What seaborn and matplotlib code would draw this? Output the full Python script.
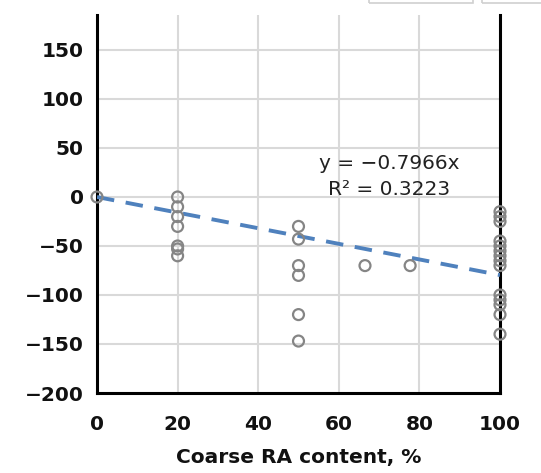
import matplotlib
matplotlib.use("Agg")
import matplotlib.pyplot as plt
import seaborn as sns
import pandas as pd
from matplotlib.patches import Rectangle

# Measured change values by coarse recycled-aggregate content
ra_content = [0,
              20, 20, 20, 20, 20, 20, 20,
              50, 50, 50, 50, 50, 50,
              66.5, 77.7,
              100, 100, 100, 100, 100, 100, 100, 100, 100, 100, 100, 100, 100, 100]
change = [0,
          0, -10, -20, -30, -50, -53, -60,
          -30, -43, -70, -80, -120, -147,
          -70, -70,
          -15, -20, -25, -45, -50, -55, -60, -65, -70, -100, -105, -110, -120, -140]

# Linear trend forced through the origin
slope = -0.7966
r_squared = 0.3223
trend_x = [0, 100]

x_ticks = [0, 20, 40, 60, 80, 100]
y_ticks = [-200, -150, -100, -50, 0, 50, 100, 150]
x_label = "Coarse RA content, %"

sns.set_theme(style="white")
plt.rcParams["font.family"] = ["DejaVu Sans"]

df = pd.DataFrame({"ra": ra_content, "change": change})
trend = pd.DataFrame({"ra": trend_x, "fit": [slope * v for v in trend_x]})

fig = plt.figure(figsize=(5.41, 4.73), dpi=100)
ax = fig.add_axes([97 / 541, 80 / 473, 403 / 541, 378 / 473])

ax.set_xlim(0, 100)
ax.set_ylim(-200, 185.7)
ax.set_xticks(x_ticks)
ax.set_yticks(y_ticks)
ax.grid(True, color="#d9d9d9", linewidth=1.5)
ax.set_axisbelow(True)

sns.lineplot(data=trend, x="ra", y="fit", ax=ax, color="#4f81bd",
             linewidth=2.8, dashes=(4.5, 3), zorder=3)
sns.scatterplot(data=df, x="ra", y="change", ax=ax, marker="o",
                s=62, facecolor="none", edgecolor="#858585",
                linewidth=1.6, zorder=4, clip_on=False)

for side in ["left", "right", "bottom"]:
    ax.spines[side].set_color("black")
    ax.spines[side].set_linewidth(2.2)
ax.spines["top"].set_visible(False)

ax.tick_params(axis="both", direction="in", length=7, width=2,
               color="black", labelsize=14.5)
ax.tick_params(axis="y", pad=9.5)
ax.tick_params(axis="x", pad=16)
for lbl in ax.get_xticklabels() + ax.get_yticklabels():
    lbl.set_fontweight("bold")
    lbl.set_color("#111111")

ax.set_xlabel(x_label, fontsize=14.5, fontweight="bold", color="#111111", labelpad=10)
ax.set_ylabel("")

ax.text(72.5, 34, f"y = \u2212{abs(slope):.4f}x", fontsize=14.5,
        ha="center", va="center", color="#222222")
ax.text(72.5, 8, f"R\u00b2 = {r_squared:.4f}", fontsize=14.5,
        ha="center", va="center", color="#222222")

# Neighbouring panel frames peeking in at the top edge
for x0, w in [(369, 104), (482, 70)]:
    fig.patches.append(Rectangle((x0 / 541, 470 / 473), w / 541, 10 / 473,
                                 transform=fig.transFigure, fill=False,
                                 edgecolor="#d0d0d0", linewidth=1.2))

fig.savefig("out.png", dpi=100)
